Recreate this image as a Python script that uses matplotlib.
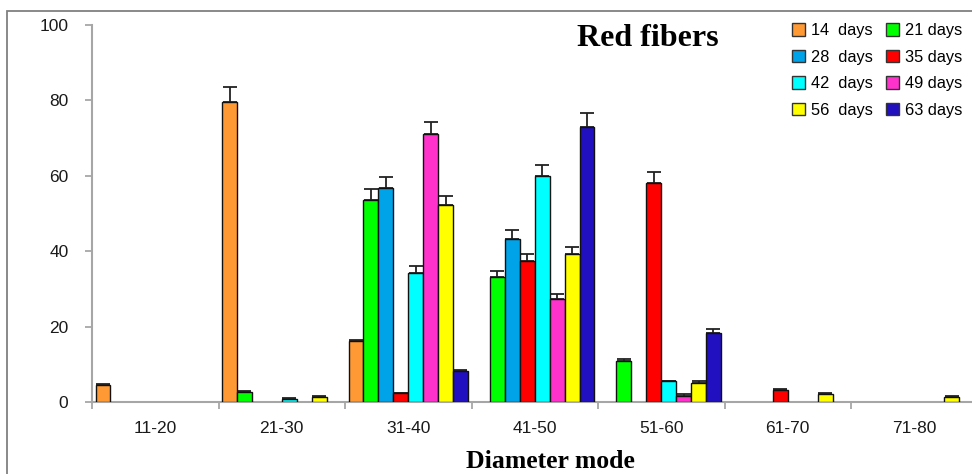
import numpy as np
import matplotlib
matplotlib.use("Agg")
import matplotlib.pyplot as plt
from matplotlib.patches import Rectangle

# diameter classes (x categories)
categories = ["11-20", "21-30", "31-40", "41-50", "51-60", "61-70", "71-80"]

# mean values per sampling day (0 = no fibers in that class)
d14 = [4.5, 79.5, 16.2, 0, 0, 0, 0]
d21 = [0, 2.6, 53.5, 33.2, 11.0, 0, 0]
d28 = [0, 0, 56.8, 43.3, 0, 0, 0]
d35 = [0, 0, 2.3, 37.4, 58.2, 3.1, 0]
d42 = [0, 0.8, 34.1, 60.0, 5.5, 0, 0]
d49 = [0, 0, 71.1, 27.2, 1.7, 0, 0]
d56 = [0, 1.3, 52.2, 39.2, 5.1, 2.2, 1.2]
d63 = [0, 0, 8.3, 72.9, 18.4, 0, 0]

# standard errors (upper bars only)
e14 = [0.4, 4.0, 0.3, 0, 0, 0, 0]
e21 = [0, 0.3, 2.9, 1.5, 0.4, 0, 0]
e28 = [0, 0, 2.8, 2.4, 0, 0, 0]
e35 = [0, 0, 0.2, 1.9, 2.8, 0.3, 0]
e42 = [0, 0.2, 2.0, 2.8, 0.2, 0, 0]
e49 = [0, 0, 3.3, 1.4, 0.3, 0, 0]
e56 = [0, 0.3, 2.4, 1.9, 0.5, 0.3, 0.3]
e63 = [0, 0, 0.3, 3.8, 1.0, 0, 0]

labels = ["14  days", "21 days", "28  days", "35 days",
          "42  days", "49 days", "56  days", "63 days"]
series = [d14, d21, d28, d35, d42, d49, d56, d63]
errors = [e14, e21, e28, e35, e42, e49, e56, e63]
colors = ["#FF9933", "#00FF00", "#00A2E8", "#FF0000",
          "#00FFFF", "#FF33CC", "#FFFF00", "#2010C0"]

fig = plt.figure(figsize=(9.72, 4.74), dpi=100)
# axes runs a bit past the right edge of the figure
ax = fig.add_axes([92 / 972, 72 / 474, 885.5 / 972, 377 / 474])

w = 0.118
start = 0.5 - 4 * w
x = np.arange(len(categories))
handles = []
for j, (vals, errs, c, lab) in enumerate(zip(series, errors, colors, labels)):
    vals = np.array(vals, dtype=float)
    errs = np.array(errs, dtype=float)
    m = vals > 0
    xs = x[m] + start + j * w
    ax.errorbar(xs + w / 2, vals[m], yerr=[np.zeros(m.sum()), errs[m]],
                fmt="none", ecolor="#222222", elinewidth=1.3, capsize=5,
                capthick=1.3, zorder=2)
    ax.bar(xs, vals[m], width=w, align="edge", color=c,
           edgecolor="#111111", linewidth=1.0, zorder=3)
    handles.append(Rectangle((0, 0), 1, 1, facecolor=c, edgecolor="#333333",
                             linewidth=1.0, label=lab))

ax.set_xlim(0, len(categories))
ax.set_ylim(0, 100)
ax.set_yticks([0, 20, 40, 60, 80, 100])
ax.set_xticks(np.arange(len(categories) + 1))
ax.set_xticklabels([])
ax.set_xticks(x + 0.5, minor=True)
ax.set_xticklabels(categories, minor=True)
ax.tick_params(axis="x", which="minor", length=0, pad=14)
ax.tick_params(axis="x", which="major", length=5, color="#A0A0A0", width=1.2)
ax.tick_params(axis="y", length=5, color="#A0A0A0", width=1.2, pad=12)
for lbl in ax.get_xticklabels(minor=True) + ax.get_yticklabels():
    lbl.set_fontfamily("Liberation Sans")
    lbl.set_fontsize(12.5)
    lbl.set_color("#1a1a1a")
for s in ["top", "right"]:
    ax.spines[s].set_visible(False)
for s in ["left", "bottom"]:
    ax.spines[s].set_color("#A6A6A6")
    ax.spines[s].set_linewidth(1.5)

# legend laid out column-wise: 14/28/42/56 then 21/35/49/63
order = [0, 2, 4, 6, 1, 3, 5, 7]
leg = fig.legend([handles[i] for i in order], [labels[i] for i in order],
                 ncol=2, frameon=False, loc="upper left",
                 bbox_to_anchor=(784 / 972, 1 - 15 / 474),
                 prop={"family": "Liberation Sans", "size": 11.8},
                 handlelength=0.8, handleheight=0.8, handletextpad=0.35,
                 columnspacing=0.8, labelspacing=0.7, borderpad=0)

fig.text(648 / 972, 1 - 39 / 474, "Red fibers", ha="center", va="center",
         family="Liberation Serif", fontweight="bold", fontsize=23)
fig.text(550 / 972, 1 - 461 / 474, "Diameter mode", ha="center", va="center",
         family="Liberation Serif", fontweight="bold", fontsize=18.5)

# outer border of the figure panel
fig.add_artist(Rectangle((7 / 972, -0.1), 1.2, 1 - 11.5 / 474 + 0.1,
                         transform=fig.transFigure, fill=False,
                         edgecolor="#808080", linewidth=1.3))

fig.savefig("out.png", dpi=100)
